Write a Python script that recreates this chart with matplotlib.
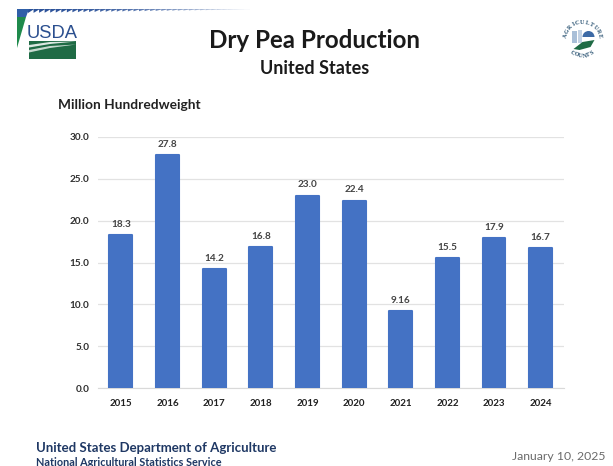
import math
import matplotlib
matplotlib.use("Agg")
import matplotlib.pyplot as plt
from matplotlib.patches import Polygon, Rectangle, Circle, Wedge

plt.rcParams['font.family'] = ['Lato', 'DejaVu Sans']

years = ['2015','2016','2017','2018','2019','2020','2021','2022','2023','2024']
production = [18.3, 27.8, 14.2, 16.8, 23.0, 22.4, 9.16, 15.5, 17.9, 16.7]
value_labels = ['18.3','27.8','14.2','16.8','23.0','22.4','9.16','15.5','17.9','16.7']
y_ticks = [0, 5, 10, 15, 20, 25, 30]

W, H = 613, 466
fig = plt.figure(figsize=(W/100, H/100), dpi=100, facecolor='white')

# overlay in pixel coordinates for the logos
bg = fig.add_axes([0, 0, 1, 1])
bg.set_xlim(0, W); bg.set_ylim(H, 0); bg.axis('off')

# USDA banner
n = 40
for i in range(n):
    x0 = 28 + (250-28)*i/n
    x1 = 28 + (250-28)*(i+1)/n
    t = i/n
    c = (0.17+0.83*t**2, 0.32+0.68*t**2, 0.60+0.40*t**2)
    bg.add_patch(Polygon([(x0, 9), (x1, 9), (x1, 9.5), (x0, 13-3.5*t)], closed=True, fc=c, ec='none'))
bg.add_patch(Polygon([(17, 9), (29, 9), (26, 17), (17, 17)], closed=True, fc='#2f5fa8', ec='none'))
bg.add_patch(Polygon([(17, 17), (26, 17), (17, 48)], closed=True, fc='#1f8a4c', ec='none'))
bg.text(52.5, 33, 'USDA', ha='center', va='center', fontsize=13.2, color='#2b4f8f', family='Liberation Sans')
bg.add_patch(Rectangle((29, 41), 47, 17.5, fc='#1f6b45', ec='none'))
bg.add_patch(Polygon([(29, 45), (50, 42), (76, 41.5), (50, 44), (29, 47.5)], closed=True, fc='white', ec='none', alpha=0.85))
bg.add_patch(Polygon([(29, 50), (50, 46), (76, 44.5), (50, 48), (29, 52.5)], closed=True, fc='white', ec='none', alpha=0.75))

# Agriculture Counts seal
cx, cy = 582.5, 39
bg.add_patch(Rectangle((cx-11, cy-8), 5, 12, fc='#a9bfd8', ec='none'))
bg.add_patch(Rectangle((cx-5, cy-9), 4, 13, fc='#c3d2e4', ec='none'))
bg.add_patch(Wedge((cx+6, cy-2), 6, 180, 360, fc='#3d6aa6', ec='none'))
bg.add_patch(Polygon([(cx-9, cy+10), (cx, cy+3), (cx+12, cy+1), (cx+8, cy+8), (cx-3, cy+11)], closed=True, fc='#1f6b45', ec='none'))

def ring_text(s, radius, start_deg, end_deg, bottom=False):
    for i, ch in enumerate(s):
        a = start_deg + (end_deg - start_deg) * i / (len(s) - 1)
        r = math.radians(a)
        x = cx + radius * math.cos(r)
        y = cy - radius * math.sin(r)
        rot = a + 90 if bottom else a - 90
        bg.text(x, y, ch, fontsize=4.2, ha='center', va='center', rotation=rot,
                color='#1f4a6b', family='Liberation Serif', weight='bold')

ring_text('AGRICULTURE', 17, 170, 10)
ring_text('COUNTS', 17, 235, 305, bottom=True)

# Titles
bg.text(314.5, 40, 'Dry Pea Production', ha='center', va='center', fontsize=17.4, weight='bold', color='#1a1a1a')
bg.text(314.5, 69, 'United States', ha='center', va='center', fontsize=13, weight='bold', color='#1a1a1a')
bg.text(58, 105, 'Million Hundredweight', ha='left', va='center', fontsize=9.9, weight='bold', color='#222222')

# Footer
bg.text(36, 448, 'United States Department of Agriculture', ha='left', va='center', fontsize=9.5, weight='bold', color='#1f3864')
bg.text(36, 462, 'National Agricultural Statistics Service', ha='left', va='center', fontsize=7.8, weight='bold', color='#1f3864')
bg.text(605, 456, 'January 10, 2025', ha='right', va='center', fontsize=8.8, color='#6b6b6b')

# Chart
left, right, top, bottom = 97.5, 564, 137, 388
ax = fig.add_axes([left/W, 1-bottom/H, (right-left)/W, (bottom-top)/H])
ax.patch.set_alpha(0)
xs = range(len(years))
ax.bar(xs, production, width=0.49, color='#4472c4', edgecolor='#4472c4', linewidth=1.5,
       joinstyle='round', zorder=3)
for x, v, lab in zip(xs, production, value_labels):
    ax.annotate(lab, (x, v), xytext=(0, 4.5), textcoords='offset points', ha='center', va='bottom',
                fontsize=7.2, weight='bold', color='#444444')
ax.set_xlim(-0.5, len(years)-0.5)
ax.set_ylim(0, 30)
ax.set_yticks(y_ticks)
ax.set_yticklabels([f'{t:.1f}' for t in y_ticks], fontsize=7.2, weight='bold', color='#303030')
ax.set_xticks(list(xs))
ax.set_xticklabels(years, fontsize=7, weight='bold', color='#202020')
ax.tick_params(length=0)
ax.tick_params(axis='x', pad=8)
ax.tick_params(axis='y', pad=6)
ax.grid(axis='y', color='#e2e2e2', lw=0.9, zorder=0)
ax.set_axisbelow(True)
for s in ['top', 'right', 'left']:
    ax.spines[s].set_visible(False)
ax.spines['bottom'].set_color('#d9d9d9')

fig.savefig('out.png', dpi=100)
